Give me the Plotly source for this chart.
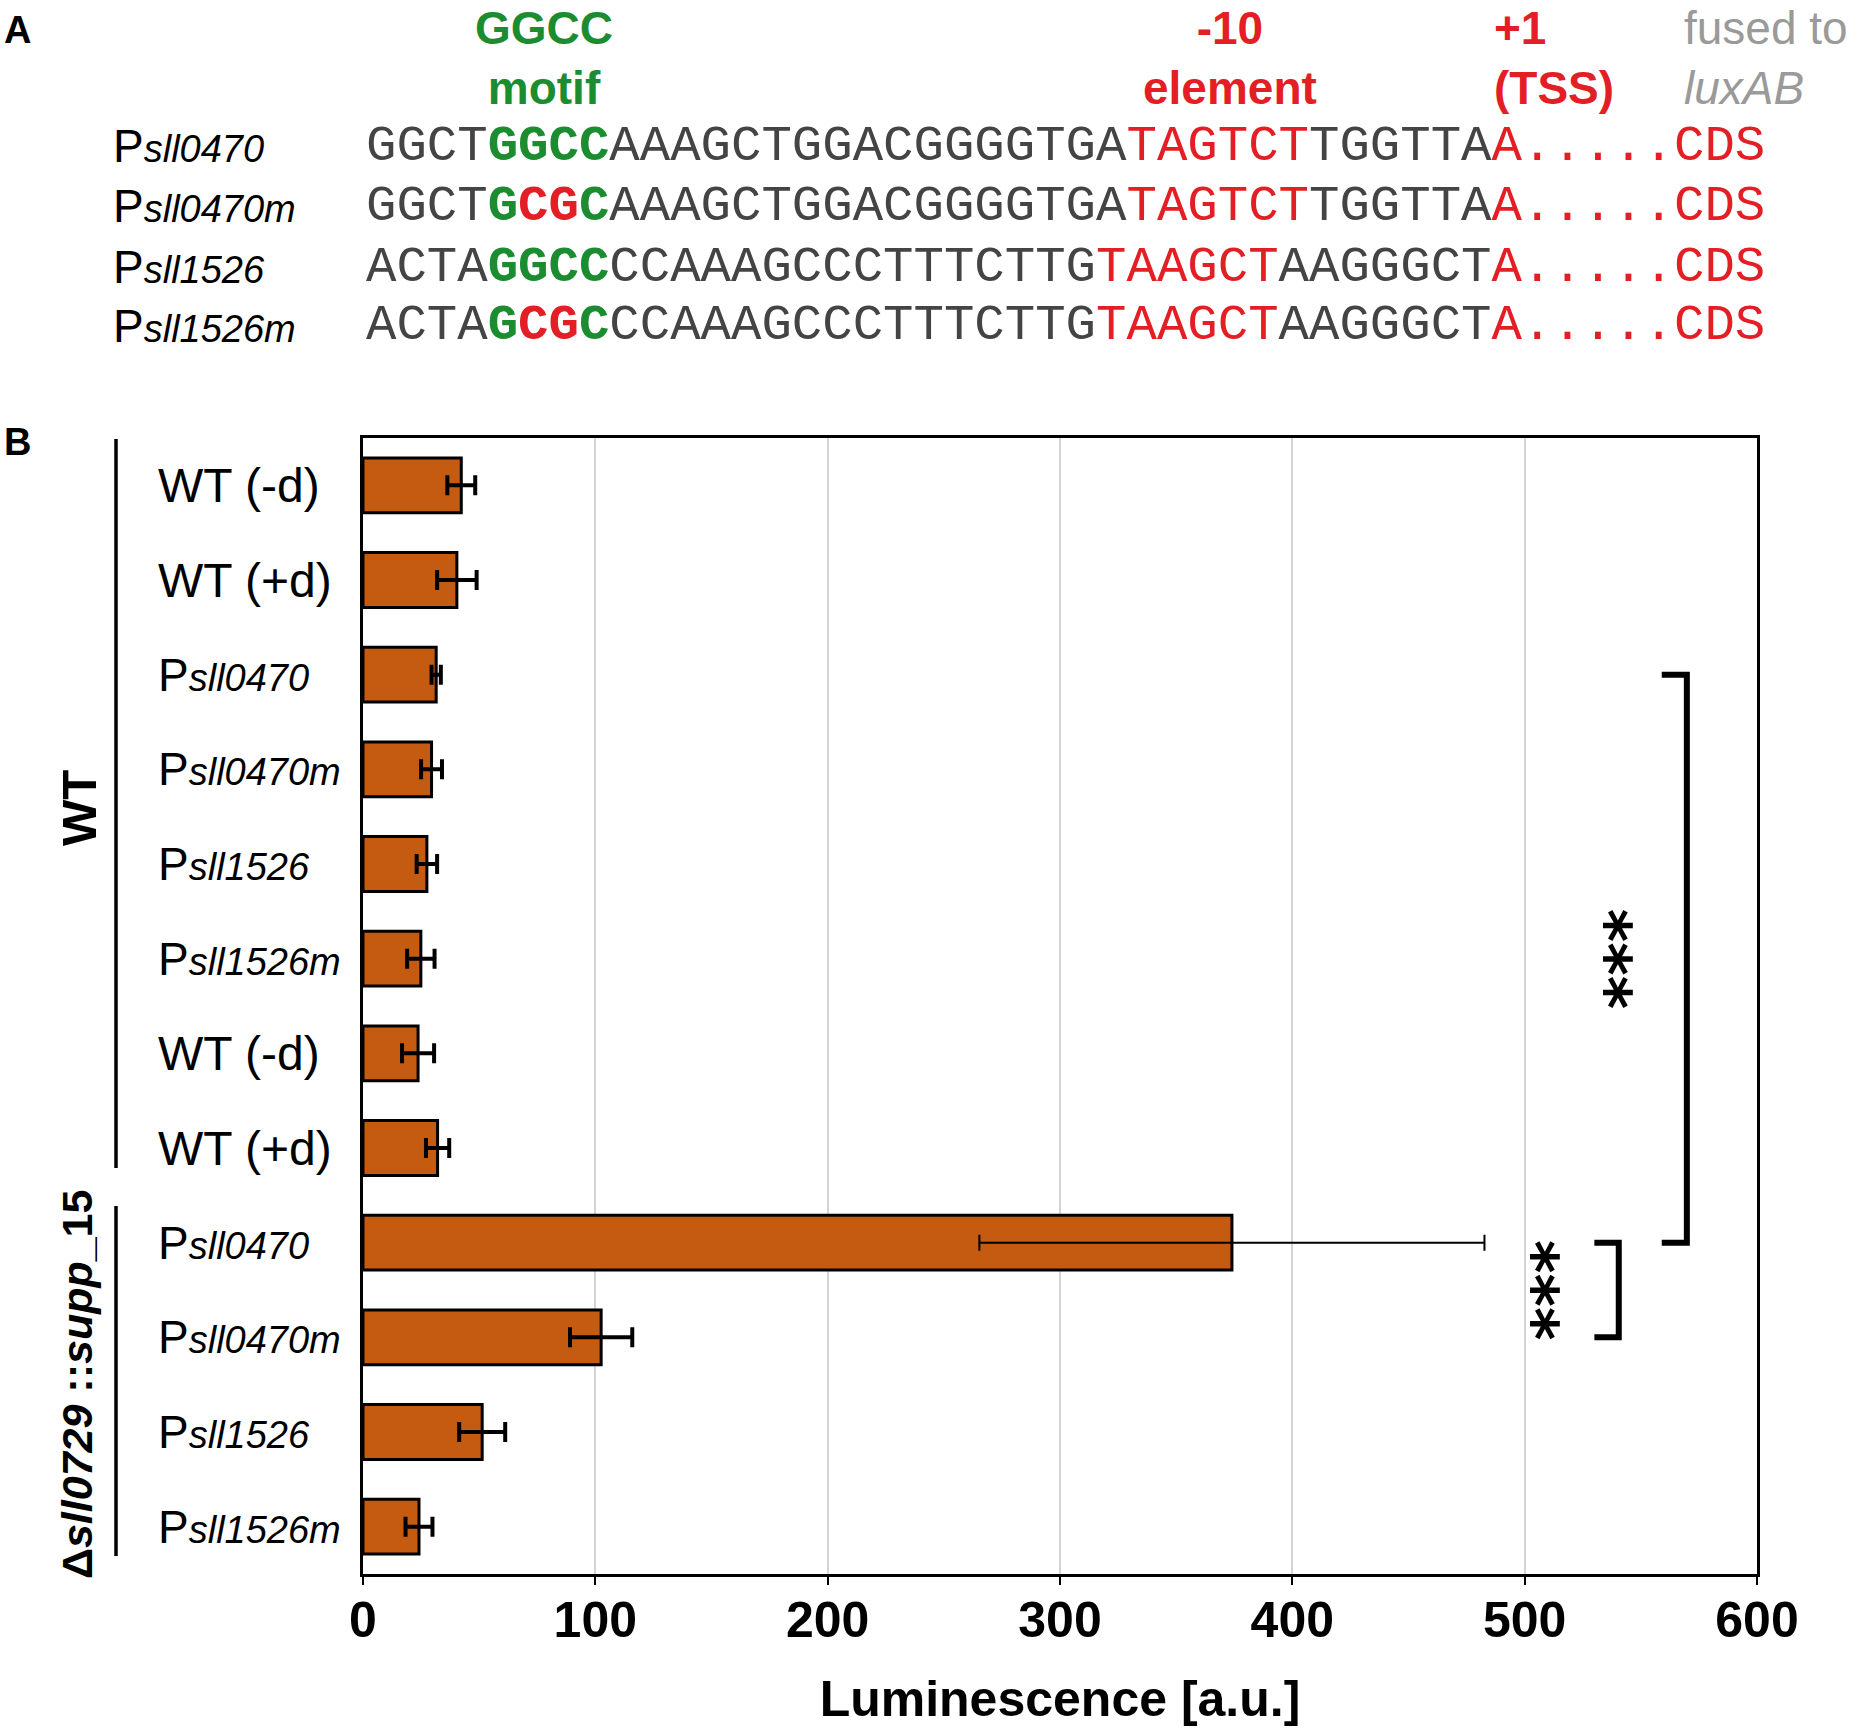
import plotly.graph_objects as go

# ---------------- data ----------------
categories = ["WT (-d)", "WT (+d)", "Psll0470", "Psll0470m", "Psll1526", "Psll1526m",
              "WT (-d)", "WT (+d)", "Psll0470", "Psll0470m", "Psll1526", "Psll1526m"]
luminescence = [42.3, 40.4, 31.5, 29.5, 27.5, 24.9, 23.7, 32.1, 374.0, 102.5, 51.3, 24.1]
errors = [6.0, 8.5, 2.0, 4.5, 4.4, 5.9, 6.9, 5.0, 108.7, 13.4, 9.9, 5.8]
x_ticks = [0, 100, 200, 300, 400, 500, 600]
comparisons = [(2, 8, "***"), (8, 9, "***")]

# panel A sequences
promoters = ["Psll0470", "Psll0470m", "Psll1526", "Psll1526m"]
upstream = ["GGCT", "GGCT", "ACTA", "ACTA"]
motifs = ["GGCC", "GCGC", "GGCC", "GCGC"]
motif_wt = "GGCC"
middle = ["AAAGCTGGACGGGGTGA", "AAAGCTGGACGGGGTGA", "CCAAAGCCCTTTCTTG", "CCAAAGCCCTTTCTTG"]
minus10 = ["TAGTCT", "TAGTCT", "TAAGCT", "TAAGCT"]
spacer = ["TGGTTA", "TGGTTA", "AAGGGCT", "AAGGGCT"]
tss = ["A", "A", "A", "A"]
tail = "....."
cds = "CDS"

# ---------------- layout helpers ----------------
W, H = 1866, 1730
L, R, T, B = 363, 109, 438, 156
PW, PH = W - L - R, H - T - B


def px(x):
    return (x - L) / PW


def py(y):
    return (H - B - y) / PH


SANS = "Liberation Sans, Arial, sans-serif"
MONO = "Liberation Mono, Courier New, monospace"
ORANGE = "#C55A11"
RED = "#E31E24"
GREEN = "#1C8C30"
GRAY_SEQ = "#444444"
GRAY_TXT = "#9a9a9a"

ypos = list(range(len(categories)))

fig = go.Figure()
fig.add_trace(go.Bar(
    x=luminescence, y=ypos, orientation="h", width=0.58,
    marker=dict(color=ORANGE, line=dict(color="black", width=3)),
    showlegend=False, hoverinfo="x",
))

# error bars: thick for small SEs, thin for the large one (as in the figure)
thin = [e > 50 for e in errors]
for is_thin in (False, True):
    idx = [i for i in ypos if thin[i] == is_thin]
    fig.add_trace(go.Scatter(
        x=[luminescence[i] for i in idx], y=idx, mode="markers",
        marker=dict(size=1, color="rgba(0,0,0,0)"),
        error_x=dict(type="data", array=[errors[i] for i in idx], color="black",
                     thickness=2 if is_thin else 4, width=8 if is_thin else 10),
        showlegend=False, hoverinfo="skip", cliponaxis=False,
    ))

annotations = []
shapes = []


def fmt_label(lab, small):
    if lab.startswith("P"):
        return "P<span style='font-size:%dpx'><i>%s</i></span>" % (small, lab[1:])
    return lab


# category labels (left aligned)
for i, lab in enumerate(categories):
    is_p = lab.startswith("P")
    annotations.append(dict(
        x=px(156), y=i, xref="paper", yref="y", xanchor="left", yanchor="middle",
        text=fmt_label(lab, 38), showarrow=False,
        font=dict(family=SANS, size=46 if is_p else 48, color="black")))

# group lines and labels
group_line_px = [(439, 1168), (1206, 1556)]
group_label_px = [(79, 808, 49), (77, 1385, 43)]
group_texts = ["<b>WT</b>", "<b>Δ<i>sll0729</i> ::<i>supp</i>_15</b>"]
for (y0, y1), (gx, gy, gs), gt in zip(group_line_px, group_label_px, group_texts):
    shapes.append(dict(type="line", xref="paper", yref="paper",
                       x0=px(116), x1=px(116), y0=py(y0), y1=py(y1),
                       line=dict(color="black", width=3.5)))
    annotations.append(dict(x=px(gx), y=py(gy), xref="paper", yref="paper",
                            text=gt, textangle=-90, showarrow=False,
                            xanchor="center", yanchor="middle",
                            font=dict(family=SANS, size=gs, color="black")))

# significance brackets
bracket_x = [(559, 569.8, 535.4, 5.0), (530, 540.5, 504.0, 8.5)]
for (i, j, stars), (xa, xv, sx, sy) in zip(comparisons, bracket_x):
    shapes.append(dict(type="path", xref="x", yref="y",
                       path="M %f,%f L %f,%f L %f,%f L %f,%f" % (xa, i, xv, i, xv, j, xa, j),
                       line=dict(color="black", width=6)))
    annotations.append(dict(x=sx, y=sy, xref="x", yref="y", text="<b>%s</b>" % stars,
                            textangle=90, showarrow=False, xanchor="center", yanchor="middle",
                            font=dict(family="DejaVu Sans", size=64, color="black")))

# panel letters
annotations.append(dict(x=px(2), y=py(30), xref="paper", yref="paper", text="<b>A</b>",
                        showarrow=False, xanchor="left", yanchor="middle",
                        font=dict(family=SANS, size=38, color="black")))
annotations.append(dict(x=px(2), y=py(442), xref="paper", yref="paper", text="<b>B</b>",
                        showarrow=False, xanchor="left", yanchor="middle",
                        font=dict(family=SANS, size=38, color="black")))

# panel A headers (two-line blocks anchored at the page top)
headers = [
    ("<b>GGCC<br>motif</b>", 544, GREEN, "center"),
    ("<b>-10<br>element</b>", 1230, RED, "center"),
    ("<b>+1</b><br><b>(TSS)</b>", 1492, RED, "left"),
    ("fused to<br><i>luxAB</i>", 1682, GRAY_TXT, "left"),
]
for txt, hx, col, anc in headers:
    annotations.append(dict(x=px(hx), y=py(0), xref="paper", yref="paper", text=txt,
                            showarrow=False, xanchor=anc, yanchor="top", align=anc,
                            font=dict(family=SANS, size=46, color=col)))

# panel A sequence rows
row_y = [146, 206, 267, 326]


def span(txt, col, bold=False):
    s = "<span style='color:%s'>%s</span>" % (col, txt)
    return "<b>%s</b>" % s if bold else s


for k in range(len(promoters)):
    annotations.append(dict(x=px(111), y=py(row_y[k]), xref="paper", yref="paper",
                            text=fmt_label(promoters[k], 38), showarrow=False,
                            xanchor="left", yanchor="middle",
                            font=dict(family=SANS, size=46, color="black")))
    motif_html = "".join(span(c, GREEN if c == w else RED, True)
                         for c, w in zip(motifs[k], motif_wt))
    seq = (span(upstream[k], GRAY_SEQ) + motif_html + span(middle[k], GRAY_SEQ)
           + span(minus10[k], RED) + span(spacer[k], GRAY_SEQ)
           + span(tss[k] + tail + cds, RED))
    annotations.append(dict(x=px(364), y=py(row_y[k]), xref="paper", yref="paper",
                            text=seq, showarrow=False, xanchor="left", yanchor="middle",
                            font=dict(family=MONO, size=50.7, color=GRAY_SEQ)))

fig.update_layout(
    width=W, height=H,
    margin=dict(l=L, r=R, t=T, b=B, pad=0),
    paper_bgcolor="white", plot_bgcolor="white",
    barmode="overlay",
    xaxis=dict(range=[0, 600], tickvals=x_ticks, ticktext=[str(v) for v in x_ticks],
               showgrid=True, gridcolor="#d4d4d4", gridwidth=2, zeroline=False,
               showline=True, linecolor="black", linewidth=3, mirror=True,
               ticks="outside", ticklen=8, tickwidth=2, tickcolor="black",
               ticklabelstandoff=-8,
               tickfont=dict(family=SANS, size=50, color="black", weight="bold"),
               title=dict(text="<b>Luminescence [a.u.]</b>", standoff=34,
                          font=dict(family=SANS, size=50, color="black"))),
    yaxis=dict(range=[11.5, -0.5], showticklabels=False, showgrid=False, zeroline=False,
               showline=True, linecolor="black", linewidth=3, mirror=True, ticks=""),
    annotations=annotations, shapes=shapes,
)

fig.write_html("out.html", config={"displayModeBar": False},
               post_script="document.body.style.margin='0px';")
